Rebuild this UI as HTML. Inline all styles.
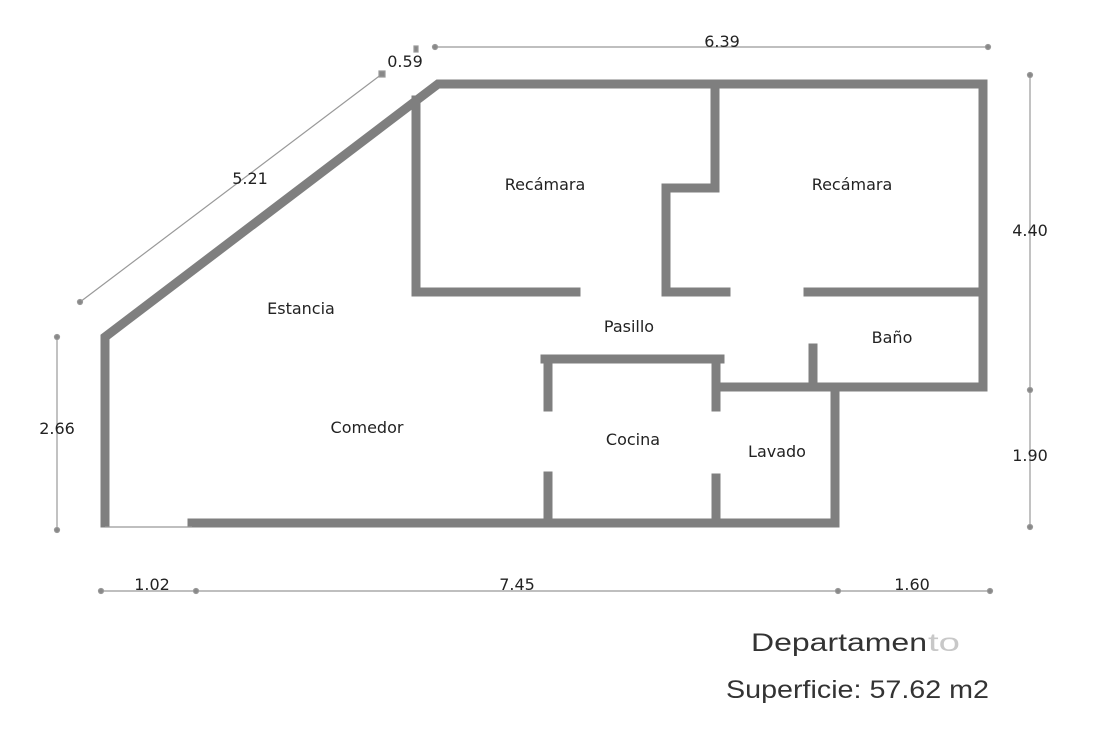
<!DOCTYPE html>
<html><head><meta charset="utf-8"><style>
body{margin:0;background:#fff;width:1099px;height:747px;overflow:hidden}
svg{display:block}
text{font-family:"DejaVu Sans","Liberation Sans",sans-serif;fill:#222}
text.big{font-family:"Liberation Sans",sans-serif;font-size:25px;fill:#333}
</style></head><body>
<svg width="1099" height="747" viewBox="0 0 1099 747">
<g stroke="#7f7f7f" stroke-width="9" fill="none" stroke-linecap="square">
<polyline points="105,523 105,337 438,84 983,84 983,387"/>
<line x1="192" y1="523" x2="835" y2="523"/>
<polyline points="718,387 835,387 835,523"/>
<line x1="835" y1="387" x2="983" y2="387"/>
<polyline points="416,100 416,292 576,292"/>
<polyline points="715,88 715,188 666,188 666,292 726,292"/>
<line x1="808" y1="292" x2="983" y2="292"/>
<line x1="813" y1="348" x2="813" y2="383"/>
<line x1="545" y1="359" x2="720" y2="359"/>
<line x1="548" y1="359" x2="548" y2="407"/>
<line x1="716" y1="359" x2="716" y2="407"/>
<line x1="548" y1="476" x2="548" y2="521"/>
<line x1="716" y1="478" x2="716" y2="521"/>
</g>
<g stroke="#999" stroke-width="1.2" fill="#888">
<line x1="105" y1="527" x2="192" y2="527"/>
<line x1="435" y1="47" x2="988" y2="47"/>
<circle cx="435" cy="47" r="2.5"/><circle cx="988" cy="47" r="2.5"/>
<line x1="1030" y1="75" x2="1030" y2="527"/>
<circle cx="1030" cy="75" r="2.5"/><circle cx="1030" cy="390" r="2.5"/><circle cx="1030" cy="527" r="2.5"/>
<line x1="57" y1="337" x2="57" y2="530"/>
<circle cx="57" cy="337" r="2.5"/><circle cx="57" cy="530" r="2.5"/>
<line x1="101" y1="591" x2="990" y2="591"/>
<circle cx="101" cy="591" r="2.5"/><circle cx="196" cy="591" r="2.5"/><circle cx="838" cy="591" r="2.5"/><circle cx="990" cy="591" r="2.5"/>
<line x1="80" y1="302" x2="382" y2="74"/>
<circle cx="80" cy="302" r="2.5"/><rect x="379" y="71" width="6" height="6"/>
<rect x="414" y="46" width="4" height="6"/>
</g>
<g font-size="16" text-anchor="middle">
<text x="722" y="47">6.39</text>
<text x="405" y="67">0.59</text>
<text x="250" y="184">5.21</text>
<text x="1030" y="236">4.40</text>
<text x="1030" y="461">1.90</text>
<text x="57" y="434">2.66</text>
<text x="152" y="590">1.02</text>
<text x="517" y="590">7.45</text>
<text x="912" y="590">1.60</text>
<text x="545" y="190">Recámara</text>
<text x="852" y="190">Recámara</text>
<text x="301" y="314">Estancia</text>
<text x="629" y="332">Pasillo</text>
<text x="892" y="343">Baño</text>
<text x="367" y="433">Comedor</text>
<text x="633" y="445">Cocina</text>
<text x="777" y="457">Lavado</text>
</g>
<text class="big" x="751" y="651" textLength="176" lengthAdjust="spacingAndGlyphs">Departamen</text>
<text class="big" x="928" y="651" fill="#c8c8c8" style="fill:#c8c8c8" textLength="32" lengthAdjust="spacingAndGlyphs">to</text>
<text class="big" x="726" y="698" textLength="263" lengthAdjust="spacingAndGlyphs">Superficie: 57.62 m2</text>
</svg>
</body></html>
